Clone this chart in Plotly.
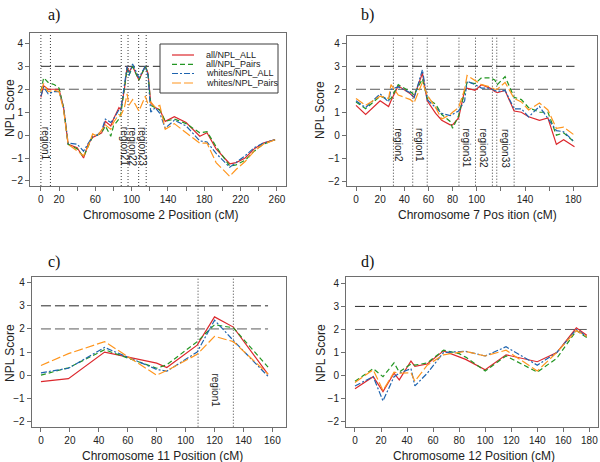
import plotly.graph_objects as go

# ---------------- data ----------------
series_names = ["all/NPL_ALL", "all/NPL_Pairs", "whites/NPL_ALL", "whites/NPL_Pairs"]

a_pos = [0, 3, 8, 15, 20, 25, 30, 40, 47, 52, 57, 62, 67, 71, 77, 80, 86, 88, 92, 95, 97, 101, 108, 115, 118,
         121, 126, 131, 137, 147, 160, 175, 183, 193, 208, 215, 225, 235, 245, 258]
a_all_all = [1.65, 2.15, 2.0, 2.0, 2.0, 1.2, -0.4, -0.55, -1.0, -0.4, -0.1, 0.0, 0.1, 0.6, 0.4, 0.7, 1.2, 1.1, 2.0, 3.0,
             2.75, 3.0, 2.4, 3.0, 2.7, 1.4, 1.2, 1.1, 0.6, 0.8, 0.55, -0.05, 0.1, -0.6, -1.25, -1.2, -1.0, -0.6, -0.35, -0.2]
a_all_pairs = [1.9, 2.5, 2.3, 2.2, 2.05, 1.2, -0.4, -0.6, -0.95, -0.5, -0.05, 0.0, 0.1, 0.4, -0.05, 0.4, 0.7, 0.9, 2.0, 2.9,
               2.6, 3.0, 2.4, 3.0, 2.7, 1.3, 1.2, 1.1, 0.6, 0.7, 0.5, 0.1, 0.15, -0.5, -1.35, -1.3, -1.1, -0.7, -0.4, -0.2]
a_wh_all = [1.7, 2.1, 1.8, 1.9, 1.9, 1.2, -0.35, -0.4, -0.7, -0.4, -0.05, 0.0, 0.2, 0.7, 0.55, 0.7, 1.1, 1.1, 2.3, 3.0,
            2.6, 3.1, 2.5, 3.0, 2.6, 1.0, 1.2, 0.95, 0.3, 0.65, 0.4, -0.25, -0.3, -0.8, -1.4, -1.2, -0.9, -0.55, -0.35, -0.2]
a_wh_pairs = [1.9, 2.25, 1.9, 1.95, 1.9, 1.1, -0.4, -0.7, -0.9, -0.5, 0.05, -0.05, 0.2, 0.45, 0.25, 0.55, 0.9, 0.85, 1.2, 1.8,
              1.3, 1.55, 1.05, 1.7, 1.35, 1.45, 1.2, 1.3, 0.25, 0.5, 0.1, -0.35, -0.35, -1.2, -1.8, -1.5, -1.15, -0.7, -0.4, -0.2]

b_pos = [0, 8, 20, 27, 29, 35, 45, 48, 55, 59, 66, 71, 78, 80, 85, 90, 92, 98.6, 104, 111, 115, 117, 123.5, 131, 137,
         143, 152, 159, 166, 172, 181]
b_all_all = [1.3, 0.9, 1.5, 1.25, 1.5, 2.15, 1.8, 1.65, 2.7, 1.5, 0.95, 0.65, 0.45, 0.45, 0.75, 1.95, 2.05, 1.95, 2.2, 2.05,
             1.9, 1.85, 1.95, 1.05, 1.0, 0.8, 0.65, 0.75, -0.4, -0.2, -0.5]
b_all_pairs = [1.45, 1.15, 1.7, 1.55, 1.6, 2.2, 1.9, 1.75, 2.45, 1.6, 1.35, 0.9, 0.6, 0.3, 0.85, 1.8, 2.3, 2.25, 2.5, 2.5,
               2.4, 2.2, 2.55, 1.65, 1.55, 1.2, 1.0, 1.0, 0.0, 0.1, -0.3]
b_wh_all = [1.5, 1.2, 1.8, 1.45, 2.0, 2.1, 1.85, 1.6, 2.85, 1.55, 1.2, 0.95, 0.85, 0.9, 1.05, 1.5, 2.35, 2.2, 2.05, 2.05,
            1.95, 1.9, 1.95, 1.15, 1.15, 0.8, 1.25, 0.75, 0.2, 0.15, -0.3]
b_wh_pairs = [1.6, 1.3, 1.7, 1.6, 2.2, 1.75, 1.55, 1.4, 2.3, 1.75, 1.2, 0.7, 0.9, 1.0, 1.2, 2.0, 2.6, 2.4, 2.2, 2.1,
              2.0, 2.0, 2.3, 1.6, 1.45, 1.1, 1.4, 1.1, 0.3, 0.35, 0.0]

c_pos = [0, 19, 44, 80, 87, 108, 120, 133, 157]
c_all_all = [-0.28, -0.15, 1.0, 0.52, 0.33, 1.3, 2.52, 2.08, 0.03]
c_all_pairs = [0.0, 0.32, 1.1, 0.3, 0.45, 1.45, 2.18, 2.05, 0.35]
c_wh_all = [0.1, 0.3, 1.2, 0.25, 0.17, 1.0, 2.38, 1.5, -0.05]
c_wh_pairs = [0.42, 0.93, 1.45, 0.0, 0.2, 0.9, 1.68, 1.45, 0.05]

d_pos = [0, 14, 21.5, 30, 34, 43, 46, 55.5, 68, 80, 85, 100, 116, 140, 155, 170, 178]
d_all_all = [-0.57, -0.05, -0.7, 0.1, -0.19, 0.63, 0.4, 0.5, 1.07, 0.8, 0.7, 0.25, 0.9, 0.6, 1.0, 2.07, 1.75]
d_all_pairs = [-0.25, 0.3, -0.05, 0.55, 0.15, 0.5, 0.45, 0.55, 1.1, 0.95, 0.8, 0.2, 0.85, 0.15, 0.75, 1.95, 1.65]
d_wh_all = [-0.45, -0.05, -1.1, -0.05, 0.1, 0.3, -0.45, 0.1, 1.0, 1.05, 1.05, 0.85, 1.25, 0.45, 1.0, 2.0, 1.7]
d_wh_pairs = [-0.3, 0.25, -0.65, 0.15, 0.1, 0.12, -0.25, 0.45, 0.9, 1.0, 1.05, 0.85, 1.1, 0.2, 1.0, 1.95, 1.7]

thresholds = [2, 3]

a_region_bounds = [0, 10.5, 88.5, 96, 107.7, 116]
a_region_labels = ["region1", "region21", "region22", "region23"]
a_region_label_pos = [4.5, 92, 101.5, 111.8]

b_region_bounds = [31, 47, 59, 85.3, 99, 113, 116.6, 131]
b_region_labels = ["region2", "region1", "region31", "region32", "region33"]
b_region_label_pos = [35, 52.5, 91.5, 105.5, 123.5]

c_region_bounds = [108.6, 133]
c_region_labels = ["region1"]
c_region_label_pos = [120.5]

a_ticks = [0, 20, 40, 60, 80, 100, 120, 140, 160, 180, 200, 220, 240, 260]
a_ticktext = ["0", "20", "", "60", "", "100", "", "140", "", "180", "", "220", "", "260"]
b_ticks = [0, 20, 40, 60, 80, 100, 120, 140, 160, 180]
b_ticktext = ["0", "20", "40", "60", "80", "100", "", "140", "", "180"]
c_ticks = [0, 20, 40, 60, 80, 100, 120, 140, 160]
d_ticks = [0, 20, 40, 60, 80, 100, 120, 140, 160, 180]
y_ticks = [-2, -1, 0, 1, 2, 3, 4]

# ---------------- styling ----------------
colors = ["rgb(220,40,45)", "rgb(35,150,35)", "rgb(30,100,175)", "rgb(255,150,30)"]
dashes = ["solid", "5px,3px", "6px,2px,2px,2px", "9px,3px"]
W, H = 600, 462
FONT = "Liberation Sans, Arial, sans-serif"

panels = [
    dict(key="a", pos=a_pos, ys=[a_all_all, a_all_pairs, a_wh_all, a_wh_pairs],
         dom_x=[30 / W, 286 / W], dom_y=[1 - 186 / H, 1 - 33.3 / H], xr=[-12, 270], yr=[-2.22, 4.44],
         ticks=a_ticks, ticktext=a_ticktext, bounds=a_region_bounds, labels=a_region_labels,
         label_pos=a_region_label_pos, label_top=0.45, thr_end=258,
         title="Chromosome 2 Position (cM)", tx=160, ty=215, yt_x=10, yt_y=108, lx=54, ly=15, letter="a)"),
    dict(key="b", pos=b_pos, ys=[b_all_all, b_all_pairs, b_wh_all, b_wh_pairs],
         dom_x=[346.7 / W, 596.7 / W], dom_y=[1 - 185.7 / H, 1 - 36 / H], xr=[-7.7, 199.4], yr=[-2.2, 4.32],
         ticks=b_ticks, ticktext=b_ticktext, bounds=b_region_bounds, labels=b_region_labels,
         label_pos=b_region_label_pos, label_top=0.38, thr_end=181,
         title="Chromosome 7 Pos ition (cM)", tx=477, ty=215, yt_x=320, yt_y=110, lx=367, ly=15, letter="b)"),
    dict(key="c", pos=c_pos, ys=[c_all_all, c_all_pairs, c_wh_all, c_wh_pairs],
         dom_x=[31.7 / W, 286 / W], dom_y=[1 - 426.7 / H, 1 - 276.7 / H], xr=[-6.4, 169.4], yr=[-2.23, 4.26],
         ticks=c_ticks, ticktext=[str(t) for t in c_ticks], bounds=c_region_bounds, labels=c_region_labels,
         label_pos=c_region_label_pos, label_top=0.15, thr_end=157,
         title="Chromosome 11 Position (cM)", tx=162, ty=456, yt_x=10, yt_y=353, lx=54, ly=262, letter="c)"),
    dict(key="d", pos=d_pos, ys=[d_all_all, d_all_pairs, d_wh_all, d_wh_pairs],
         dom_x=[346 / W, 597.7 / W], dom_y=[1 - 426.7 / H, 1 - 276.7 / H], xr=[-6.9, 186.4], yr=[-2.22, 4.29],
         ticks=d_ticks, ticktext=[str(t) for t in d_ticks], bounds=[], labels=[], label_pos=[], label_top=0,
         thr_end=178,
         title="Chromosome 12 Position (cM)", tx=474, ty=456, yt_x=321, yt_y=353, lx=367, ly=262, letter="d)"),
]

fig = go.Figure()
shapes = []
annotations = []
layout = {}

for i, p in enumerate(panels):
    n = "" if i == 0 else str(i + 1)
    xa, ya = "x" + n, "y" + n
    for s in range(4):
        fig.add_trace(go.Scatter(
            x=p["pos"], y=p["ys"][s], mode="lines", name=series_names[s], showlegend=False,
            line=dict(color=colors[s], width=1.2, dash=dashes[s]), xaxis=xa, yaxis=ya))
    axis_common = dict(showline=True, mirror=True, linecolor="rgb(110,110,110)", linewidth=1,
                       ticks="outside", ticklen=4, tickcolor="rgb(110,110,110)", showgrid=False,
                       zeroline=False, tickfont=dict(family=FONT, size=10, color="#222"))
    layout["xaxis" + n] = dict(axis_common, domain=p["dom_x"], range=p["xr"], anchor=ya,
                               tickmode="array", tickvals=p["ticks"], ticktext=p["ticktext"])
    layout["yaxis" + n] = dict(axis_common, domain=p["dom_y"], range=p["yr"], anchor=xa,
                               tickmode="array", tickvals=y_ticks)
    # thresholds
    for t, col in zip(thresholds, ["rgb(90,90,90)", "rgb(40,40,40)"]):
        shapes.append(dict(type="line", xref=xa, yref=ya, x0=0, x1=p["thr_end"], y0=t, y1=t,
                           line=dict(color=col, width=1, dash="10px,4px"), layer="below"))
    # region boundaries
    for b in p["bounds"]:
        shapes.append(dict(type="line", xref=xa, yref=ya + " domain", x0=b, x1=b, y0=0, y1=1,
                           line=dict(color="rgb(60,60,60)", width=1, dash="1px,2px"), layer="below"))
    for lab, lp in zip(p["labels"], p["label_pos"]):
        annotations.append(dict(xref=xa, yref=ya, x=lp, y=p["label_top"], text=lab, textangle=90,
                                showarrow=False, xanchor="center", yanchor="top",
                                font=dict(family=FONT, size=10, color="#222")))
    # titles
    annotations.append(dict(xref="paper", yref="paper", x=p["tx"] / W, y=1 - p["ty"] / H, text=p["title"],
                            showarrow=False, xanchor="center", yanchor="middle",
                            font=dict(family=FONT, size=12, color="#222")))
    annotations.append(dict(xref="paper", yref="paper", x=p["yt_x"] / W, y=1 - p["yt_y"] / H, text="NPL Score",
                            textangle=-90, showarrow=False, xanchor="center", yanchor="middle",
                            font=dict(family=FONT, size=12, color="#222")))
    annotations.append(dict(xref="paper", yref="paper", x=p["lx"] / W, y=1 - p["ly"] / H, text=p["letter"],
                            showarrow=False, xanchor="center", yanchor="middle",
                            font=dict(family="Liberation Serif, Times New Roman, serif", size=16, color="#111")))

# legend box (panel a)
shapes.append(dict(type="rect", xref="paper", yref="paper", x0=160 / W, x1=278 / W, y0=1 - 93 / H, y1=1 - 44 / H,
                   fillcolor="white", line=dict(color="rgb(60,60,60)", width=1), layer="above"))
rows = [55, 64.3, 73.5, 83]
for s in range(4):
    yy = 1 - rows[s] / H
    shapes.append(dict(type="line", xref="paper", yref="paper", x0=172 / W, x1=194 / W, y0=yy, y1=yy,
                       line=dict(color=colors[s], width=1.2, dash=dashes[s]), layer="above"))
    annotations.append(dict(xref="paper", yref="paper", x=204 / W, y=yy, text=series_names[s], showarrow=False,
                            xanchor="left", yanchor="middle", font=dict(family=FONT, size=9, color="#222")))

fig.update_layout(
    width=W, height=H, margin=dict(l=0, r=0, t=0, b=0), paper_bgcolor="white", plot_bgcolor="white",
    shapes=shapes, annotations=annotations, showlegend=False, **layout)

fig.write_html("out.html", config={"displayModeBar": False},
               post_script="document.body.style.margin='0';document.body.style.overflow='hidden';")
